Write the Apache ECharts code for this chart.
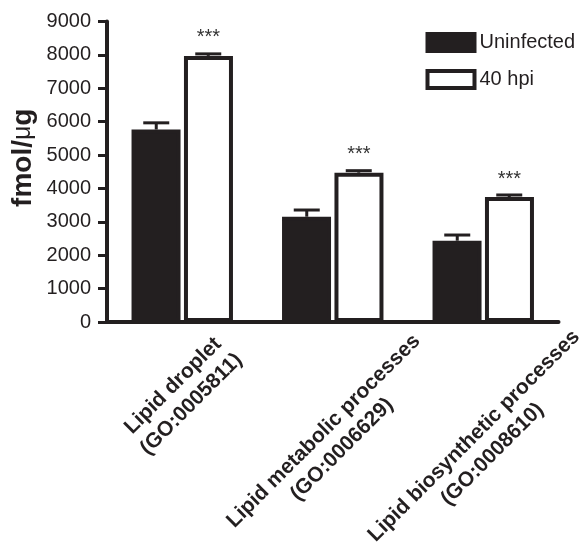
<!DOCTYPE html>
<html>
<head>
<meta charset="utf-8">
<script src="https://cdn.jsdelivr.net/npm/echarts@6/dist/echarts.min.js"></script>
<style>
  html, body { margin: 0; padding: 0; background: #fff; }
  #chart { width: 581px; height: 543px; }
</style>
</head>
<body>
<div id="chart"></div>
<script>
const categories = [
  'Lipid droplet\n(GO:0005811)',
  'Lipid metabolic processes\n(GO:0006629)',
  'Lipid biosynthetic processes\n(GO:0008610)'
];
// extra offset so the rotated labels hang from the same height
const labelPad = [0, 64, 71];
const uninfected = [5765, 3154, 2435];
const uninfectedErr = [200, 200, 170];
const hpi40 = [7970, 4472, 3744];
const hpi40Err = [60, 60, 60];
const signif = ['***', '***', '***'];

const ink = '#231f20';
const font = 'Liberation Sans, Arial, Helvetica, sans-serif';

const myChart = echarts.init(document.getElementById('chart'));

// upper error bar only (stem + cap), shifted to the bar centre
const errBar = (offset) => (params, api) => {
  const base = api.coord([api.value(0), api.value(1)]);
  const top = api.coord([api.value(0), api.value(1) + api.value(2)]);
  const cx = base[0] + offset;
  return {
    type: 'group',
    children: [
      { type: 'line', shape: { x1: cx, y1: base[1], x2: cx, y2: top[1] }, style: { stroke: ink, lineWidth: 3 } },
      { type: 'line', shape: { x1: cx - 13, y1: top[1], x2: cx + 13, y2: top[1] }, style: { stroke: ink, lineWidth: 3 } }
    ]
  };
};

// invisible spacer line on top of each label pushes it down along the rotated box
const spacerRich = {};
labelPad.forEach((p, i) => {
  spacerRich['sp' + i] = { fontSize: 1, lineHeight: Math.max(p, 1), height: Math.max(p, 1) };
});

const option = {
  animation: false,
  textStyle: { fontFamily: font },
  grid: { left: 107, right: 22.5, top: 21.5, bottom: 221, outerBoundsMode: 'none', containLabel: false },
  legend: {
    data: ['Uninfected', '40 hpi'],
    orient: 'vertical',
    left: 420.5,
    top: 27,
    itemWidth: 47,
    itemHeight: 17,
    itemGap: 16,
    icon: 'rect',
    itemStyle: { borderWidth: 4 },
    textStyle: { fontSize: 20, color: ink, fontFamily: font }
  },
  xAxis: {
    type: 'category',
    data: categories.map((c, i) => ({
      value: c,
      textStyle: {
        align: 'center',
        verticalAlign: 'middle',
        padding: [0, labelPad[i], 0, 0],
        rich: spacerRich
      }
    })),
    axisLine: { lineStyle: { color: ink, width: 4 } },
    axisTick: { alignWithLabel: true, length: 9, lineStyle: { color: ink, width: 3 } },
    axisLabel: {
      interval: 0,
      rotate: 45,
      margin: 73,
      fontSize: 21,
      fontWeight: 'bold',
      lineHeight: 26,
      color: ink,
      fontFamily: font,
      rich: spacerRich,
      formatter: (value, index) => labelPad[index] ? '{sp' + index + '| }\n' + value : value
    }
  },
  yAxis: {
    type: 'value',
    min: 0,
    max: 9000,
    interval: 1000,
    name: '{b|fmol/}{m|μ}{b|g}',
    nameLocation: 'middle',
    nameRotate: 90,
    nameGap: 70,
    nameMoveOverlap: false,
    nameTextStyle: {
      padding: [0, 0, 0, 28],
      rich: {
        b: { fontSize: 28, fontWeight: 'bold', color: ink, fontFamily: font },
        m: { fontSize: 25, color: ink, fontFamily: font }
      }
    },
    splitLine: { show: false },
    axisLine: { show: true, lineStyle: { color: ink, width: 4 } },
    axisTick: { show: true, length: 9, lineStyle: { color: ink, width: 3 } },
    axisLabel: {
      margin: 16,
      fontSize: 20,
      color: ink,
      fontFamily: font,
      showMinLabel: true,
      showMaxLabel: true,
      formatter: (v) => String(v)
    }
  },
  series: [
    {
      name: 'Uninfected',
      type: 'bar',
      data: uninfected,
      barWidth: 49,
      barGap: '7%',
      itemStyle: { color: ink, borderColor: ink, borderWidth: 4 }
    },
    {
      name: '40 hpi',
      type: 'bar',
      data: hpi40.map((v, i) => ({ value: v, label: { formatter: signif[i] } })),
      barWidth: 49,
      itemStyle: { color: '#fff', borderColor: ink, borderWidth: 4 },
      label: {
        show: true,
        position: 'top',
        distance: 8,
        fontSize: 20,
        color: '#333',
        fontFamily: font
      }
    },
    {
      name: 'err-uninfected',
      type: 'custom',
      z: 3,
      renderItem: errBar(-26),
      encode: { x: 0, y: 1 },
      data: uninfected.map((v, i) => [i, v, uninfectedErr[i]])
    },
    {
      name: 'err-40hpi',
      type: 'custom',
      z: 3,
      renderItem: errBar(26),
      encode: { x: 0, y: 1 },
      data: hpi40.map((v, i) => [i, v, hpi40Err[i]])
    }
  ]
};

myChart.setOption(option);
</script>
</body>
</html>
